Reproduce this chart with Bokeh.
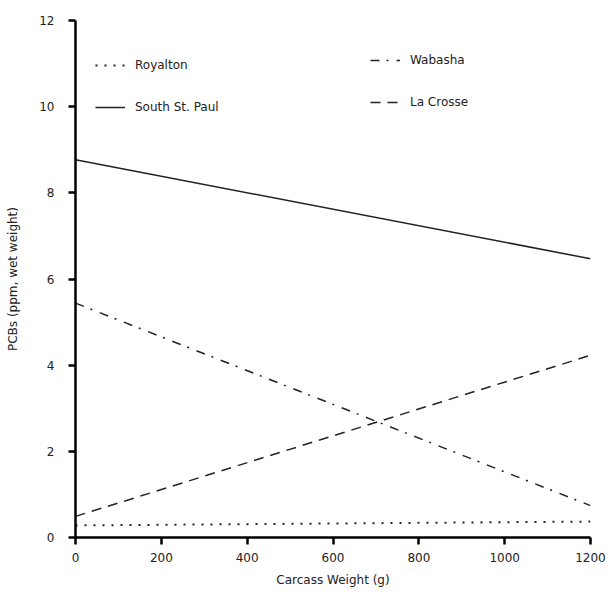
from bokeh.plotting import figure
from bokeh.models import Range1d, Legend, LegendItem, FixedTicker
from bokeh.embed import file_html
from bokeh.resources import INLINE

# Data: regression lines, PCB vs carcass weight
weights = [0, 1200]
royalton = [0.28, 0.37]
south_st_paul = [8.77, 6.47]
wabasha = [5.44, 0.74]
la_crosse = [0.49, 4.23]

x_ticks = [0, 200, 400, 600, 800, 1000, 1200]
y_ticks = [0, 2, 4, 6, 8, 10, 12]

FONT = "DejaVu Sans"
INK = "#222222"

p = figure(width=611, height=594, output_backend="svg", toolbar_location=None,
           x_range=Range1d(0, 1200), y_range=Range1d(0, 12),
           min_border_left=75, min_border_right=21, min_border_top=20, min_border_bottom=57)
p.outline_line_color = None
p.xgrid.visible = False
p.ygrid.visible = False
p.background_fill_color = "white"

r1 = p.line(weights, royalton, line_color=INK, line_width=2, line_dash="2 7")
r2 = p.line(weights, south_st_paul, line_color=INK, line_width=1.5)
r3 = p.line(weights, wabasha, line_color=INK, line_width=1.5, line_dash="9 7 2 8")
r4 = p.line(weights, la_crosse, line_color=INK, line_width=1.5, line_dash="10 7")

for ax in (p.xaxis[0], p.yaxis[0]):
    ax.axis_line_width = 2.5
    ax.axis_line_color = "black"
    ax.major_tick_line_width = 2.5
    ax.major_tick_line_color = "black"
    ax.major_tick_out = 7
    ax.major_tick_in = 0
    ax.minor_tick_line_color = None
    ax.major_label_text_font = FONT
    ax.major_label_text_font_size = "12px"
    ax.major_label_text_color = INK
    ax.axis_label_text_font = FONT
    ax.axis_label_text_font_size = "12px"
    ax.axis_label_text_font_style = "normal"
    ax.axis_label_text_color = INK

p.xaxis[0].ticker = FixedTicker(ticks=x_ticks)
p.yaxis[0].ticker = FixedTicker(ticks=y_ticks)
p.xaxis[0].axis_label = "Carcass Weight (g)"
p.yaxis[0].axis_label = "PCBs (ppm, wet weight)"
p.xaxis[0].major_label_standoff = 8
p.yaxis[0].major_label_standoff = 14
p.xaxis[0].axis_label_standoff = 8
p.yaxis[0].axis_label_standoff = 16

def make_legend(items, loc):
    lg = Legend(items=items, location=loc)
    lg.background_fill_alpha = 0
    lg.border_line_color = None
    lg.label_text_font = FONT
    lg.label_text_font_size = "12px"
    lg.label_text_color = INK
    lg.glyph_width = 30
    lg.label_standoff = 10
    lg.spacing = 22
    lg.padding = 0
    lg.margin = 0
    return lg

leg1 = make_legend([LegendItem(label="Royalton", renderers=[r1]),
                    LegendItem(label="South St. Paul", renderers=[r2])], (20, 420))
leg2 = make_legend([LegendItem(label="Wabasha", renderers=[r3]),
                    LegendItem(label="La Crosse", renderers=[r4])], (295, 425))
p.add_layout(leg1, "center")
p.add_layout(leg2, "center")

open("out.html", "w").write(file_html(p, INLINE))
